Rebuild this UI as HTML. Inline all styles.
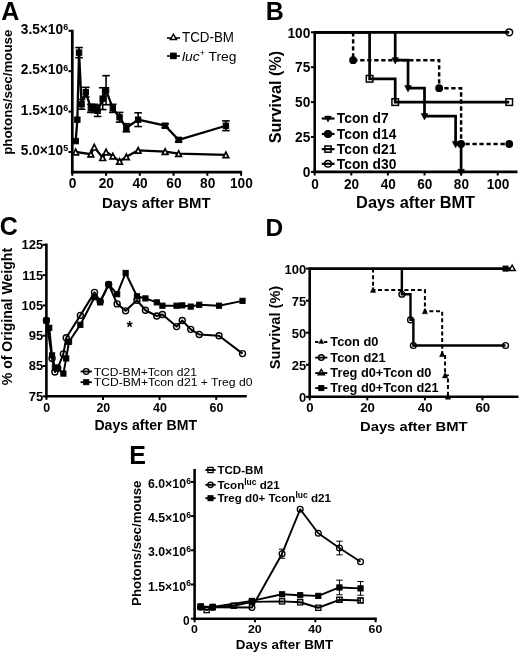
<!DOCTYPE html>
<html><head><meta charset="utf-8"><title>Figure</title>
<style>html,body{margin:0;padding:0;background:#fff}svg{display:block}text{font-family:"Liberation Sans", Arial, Helvetica, sans-serif;fill:#000}</style>
</head><body>
<svg width="520" height="654" viewBox="0 0 520 654" stroke="#000" fill="#000">
<defs><filter id="soft" x="0" y="0" width="520" height="654" filterUnits="userSpaceOnUse"><feGaussianBlur stdDeviation="0.4"/></filter></defs>
<rect x="0" y="0" width="520" height="654" fill="#fff" stroke="none"/>
<g filter="url(#soft)">
<g stroke="none">
<text transform="translate(1.2,19.8) scale(1,1)" font-size="25" font-weight="bold">A</text>
<text transform="translate(265.8,19.6) scale(1,1)" font-size="25" font-weight="bold">B</text>
<text transform="translate(-0.3,235.4) scale(1,1)" font-size="25" font-weight="bold">C</text>
<text transform="translate(265.6,235.9) scale(1,1)" font-size="24.5" font-weight="bold">D</text>
<text transform="translate(129.3,463.8) scale(1,1)" font-size="25" font-weight="bold">E</text>
</g>
<line x1="72.3" y1="29.8" x2="72.3" y2="173.55" stroke-width="2.7"/>
<line x1="70.95" y1="172.2" x2="242.1" y2="172.2" stroke-width="2.7"/>
<line x1="68.5" y1="152" x2="72.3" y2="152" stroke-width="2"/>
<line x1="68.5" y1="111.6" x2="72.3" y2="111.6" stroke-width="2"/>
<line x1="68.5" y1="71.2" x2="72.3" y2="71.2" stroke-width="2"/>
<line x1="68.5" y1="30.8" x2="72.3" y2="30.8" stroke-width="2"/>
<line x1="72.3" y1="172.2" x2="72.3" y2="175.8" stroke-width="2"/>
<line x1="106.06" y1="172.2" x2="106.06" y2="175.8" stroke-width="2"/>
<line x1="139.82" y1="172.2" x2="139.82" y2="175.8" stroke-width="2"/>
<line x1="173.58" y1="172.2" x2="173.58" y2="175.8" stroke-width="2"/>
<line x1="207.34" y1="172.2" x2="207.34" y2="175.8" stroke-width="2"/>
<line x1="241.1" y1="172.2" x2="241.1" y2="175.8" stroke-width="2"/>
<g stroke="none">
<text transform="translate(63.1,155.2) scale(1,1.1)" font-size="13" text-anchor="end" font-weight="bold" textLength="42.3" lengthAdjust="spacingAndGlyphs">5.0×10</text>
<text transform="translate(63.3,151.3) scale(1,1.1)" font-size="9" font-weight="bold">5</text>
<text transform="translate(63.1,114.8) scale(1,1.1)" font-size="13" text-anchor="end" font-weight="bold" textLength="42.3" lengthAdjust="spacingAndGlyphs">1.5×10</text>
<text transform="translate(63.3,110.9) scale(1,1.1)" font-size="9" font-weight="bold">6</text>
<text transform="translate(63.1,74.4) scale(1,1.1)" font-size="13" text-anchor="end" font-weight="bold" textLength="42.3" lengthAdjust="spacingAndGlyphs">2.5×10</text>
<text transform="translate(63.3,70.5) scale(1,1.1)" font-size="9" font-weight="bold">6</text>
<text transform="translate(63.1,34) scale(1,1.1)" font-size="13" text-anchor="end" font-weight="bold" textLength="42.3" lengthAdjust="spacingAndGlyphs">3.5×10</text>
<text transform="translate(63.3,30.1) scale(1,1.1)" font-size="9" font-weight="bold">6</text>
<text transform="translate(72.6,188.2) scale(1,1.06)" font-size="13.7" text-anchor="middle" font-weight="bold">0</text>
<text transform="translate(106.36,188.2) scale(1,1.06)" font-size="13.7" text-anchor="middle" font-weight="bold">20</text>
<text transform="translate(140.12,188.2) scale(1,1.06)" font-size="13.7" text-anchor="middle" font-weight="bold">40</text>
<text transform="translate(173.88,188.2) scale(1,1.06)" font-size="13.7" text-anchor="middle" font-weight="bold">60</text>
<text transform="translate(207.64,188.2) scale(1,1.06)" font-size="13.7" text-anchor="middle" font-weight="bold">80</text>
<text transform="translate(241.4,188.2) scale(1,1.06)" font-size="13.7" text-anchor="middle" font-weight="bold">100</text>
<text transform="translate(156.3,208.4) scale(1,1.03)" font-size="15" text-anchor="middle" font-weight="bold" textLength="108.5" lengthAdjust="spacingAndGlyphs">Days after BMT</text>
<text transform="translate(11.9,92.2) rotate(-90)" font-size="13" font-weight="bold" text-anchor="middle" textLength="125.3" lengthAdjust="spacingAndGlyphs">photons/sec/mouse</text>
</g>
<polyline points="75.68,141.09 77.36,119.68 79.05,52.62 81.58,104.33 85.8,92.21 90.87,108.37 94.24,108.37 97.62,110.79 102.68,98.67 106.06,90.19 112.81,108.37 119.56,117.26 126.32,127.76 138.13,119.68 165.14,125.74 178.64,139.88 225.91,125.74" fill="none" stroke-width="2.3" stroke-linejoin="round"/>
<line x1="79.05" y1="47.57" x2="79.05" y2="57.67" stroke-width="1.6"/>
<line x1="75.25" y1="47.57" x2="82.85" y2="47.57" stroke-width="1.6"/>
<line x1="75.25" y1="57.67" x2="82.85" y2="57.67" stroke-width="1.6"/>
<line x1="81.58" y1="99.48" x2="81.58" y2="109.18" stroke-width="1.6"/>
<line x1="77.78" y1="99.48" x2="85.38" y2="99.48" stroke-width="1.6"/>
<line x1="77.78" y1="109.18" x2="85.38" y2="109.18" stroke-width="1.6"/>
<line x1="85.8" y1="87.36" x2="85.8" y2="97.06" stroke-width="1.6"/>
<line x1="82" y1="87.36" x2="89.6" y2="87.36" stroke-width="1.6"/>
<line x1="82" y1="97.06" x2="89.6" y2="97.06" stroke-width="1.6"/>
<line x1="90.87" y1="104.33" x2="90.87" y2="112.41" stroke-width="1.6"/>
<line x1="87.07" y1="104.33" x2="94.67" y2="104.33" stroke-width="1.6"/>
<line x1="87.07" y1="112.41" x2="94.67" y2="112.41" stroke-width="1.6"/>
<line x1="94.24" y1="104.33" x2="94.24" y2="112.41" stroke-width="1.6"/>
<line x1="90.44" y1="104.33" x2="98.04" y2="104.33" stroke-width="1.6"/>
<line x1="90.44" y1="112.41" x2="98.04" y2="112.41" stroke-width="1.6"/>
<line x1="97.62" y1="105.14" x2="97.62" y2="116.45" stroke-width="1.6"/>
<line x1="93.82" y1="105.14" x2="101.42" y2="105.14" stroke-width="1.6"/>
<line x1="93.82" y1="116.45" x2="101.42" y2="116.45" stroke-width="1.6"/>
<line x1="102.68" y1="87.76" x2="102.68" y2="109.58" stroke-width="1.6"/>
<line x1="98.88" y1="87.76" x2="106.48" y2="87.76" stroke-width="1.6"/>
<line x1="98.88" y1="109.58" x2="106.48" y2="109.58" stroke-width="1.6"/>
<line x1="106.06" y1="75.64" x2="106.06" y2="104.73" stroke-width="1.6"/>
<line x1="102.26" y1="75.64" x2="109.86" y2="75.64" stroke-width="1.6"/>
<line x1="102.26" y1="104.73" x2="109.86" y2="104.73" stroke-width="1.6"/>
<line x1="112.81" y1="104.33" x2="112.81" y2="112.41" stroke-width="1.6"/>
<line x1="109.01" y1="104.33" x2="116.61" y2="104.33" stroke-width="1.6"/>
<line x1="109.01" y1="112.41" x2="116.61" y2="112.41" stroke-width="1.6"/>
<line x1="119.56" y1="112.41" x2="119.56" y2="122.1" stroke-width="1.6"/>
<line x1="115.76" y1="112.41" x2="123.36" y2="112.41" stroke-width="1.6"/>
<line x1="115.76" y1="122.1" x2="123.36" y2="122.1" stroke-width="1.6"/>
<line x1="126.32" y1="123.72" x2="126.32" y2="131.8" stroke-width="1.6"/>
<line x1="122.52" y1="123.72" x2="130.12" y2="123.72" stroke-width="1.6"/>
<line x1="122.52" y1="131.8" x2="130.12" y2="131.8" stroke-width="1.6"/>
<line x1="138.13" y1="112.81" x2="138.13" y2="126.55" stroke-width="1.6"/>
<line x1="134.33" y1="112.81" x2="141.93" y2="112.81" stroke-width="1.6"/>
<line x1="134.33" y1="126.55" x2="141.93" y2="126.55" stroke-width="1.6"/>
<line x1="165.14" y1="123.72" x2="165.14" y2="127.76" stroke-width="1.6"/>
<line x1="161.34" y1="123.72" x2="168.94" y2="123.72" stroke-width="1.6"/>
<line x1="161.34" y1="127.76" x2="168.94" y2="127.76" stroke-width="1.6"/>
<line x1="178.64" y1="137.86" x2="178.64" y2="141.9" stroke-width="1.6"/>
<line x1="174.84" y1="137.86" x2="182.44" y2="137.86" stroke-width="1.6"/>
<line x1="174.84" y1="141.9" x2="182.44" y2="141.9" stroke-width="1.6"/>
<line x1="225.91" y1="120.89" x2="225.91" y2="130.59" stroke-width="1.6"/>
<line x1="222.11" y1="120.89" x2="229.71" y2="120.89" stroke-width="1.6"/>
<line x1="222.11" y1="130.59" x2="229.71" y2="130.59" stroke-width="1.6"/>
<rect x="72.98" y="138.39" width="5.4" height="5.4" fill="#000" stroke-width="1"/>
<rect x="74.66" y="116.98" width="5.4" height="5.4" fill="#000" stroke-width="1"/>
<rect x="76.35" y="49.92" width="5.4" height="5.4" fill="#000" stroke-width="1"/>
<rect x="78.88" y="101.63" width="5.4" height="5.4" fill="#000" stroke-width="1"/>
<rect x="83.1" y="89.51" width="5.4" height="5.4" fill="#000" stroke-width="1"/>
<rect x="88.17" y="105.67" width="5.4" height="5.4" fill="#000" stroke-width="1"/>
<rect x="91.54" y="105.67" width="5.4" height="5.4" fill="#000" stroke-width="1"/>
<rect x="94.92" y="108.09" width="5.4" height="5.4" fill="#000" stroke-width="1"/>
<rect x="99.98" y="95.97" width="5.4" height="5.4" fill="#000" stroke-width="1"/>
<rect x="103.36" y="87.49" width="5.4" height="5.4" fill="#000" stroke-width="1"/>
<rect x="110.11" y="105.67" width="5.4" height="5.4" fill="#000" stroke-width="1"/>
<rect x="116.86" y="114.56" width="5.4" height="5.4" fill="#000" stroke-width="1"/>
<rect x="123.62" y="125.06" width="5.4" height="5.4" fill="#000" stroke-width="1"/>
<rect x="135.43" y="116.98" width="5.4" height="5.4" fill="#000" stroke-width="1"/>
<rect x="162.44" y="123.04" width="5.4" height="5.4" fill="#000" stroke-width="1"/>
<rect x="175.94" y="137.18" width="5.4" height="5.4" fill="#000" stroke-width="1"/>
<rect x="223.21" y="123.04" width="5.4" height="5.4" fill="#000" stroke-width="1"/>
<polyline points="75.68,152 90.87,154.02 94.24,147.15 102.68,157.66 106.06,152 112.81,156.04 119.56,161.29 126.32,156.85 138.13,150.38 165.14,151.6 178.64,153.62 225.91,154.83" fill="none" stroke-width="2.3" stroke-linejoin="round"/>
<polygon points="72.88,154.84 78.48,154.84 75.68,149.24" fill="#fff" stroke-width="1.7" stroke-linejoin="miter"/>
<polygon points="88.07,156.86 93.67,156.86 90.87,151.26" fill="#fff" stroke-width="1.7" stroke-linejoin="miter"/>
<polygon points="91.44,149.99 97.04,149.99 94.24,144.39" fill="#fff" stroke-width="1.7" stroke-linejoin="miter"/>
<polygon points="99.88,160.5 105.48,160.5 102.68,154.9" fill="#fff" stroke-width="1.7" stroke-linejoin="miter"/>
<polygon points="103.26,154.84 108.86,154.84 106.06,149.24" fill="#fff" stroke-width="1.7" stroke-linejoin="miter"/>
<polygon points="110.01,158.88 115.61,158.88 112.81,153.28" fill="#fff" stroke-width="1.7" stroke-linejoin="miter"/>
<polygon points="116.76,164.13 122.36,164.13 119.56,158.53" fill="#fff" stroke-width="1.7" stroke-linejoin="miter"/>
<polygon points="123.52,159.69 129.12,159.69 126.32,154.09" fill="#fff" stroke-width="1.7" stroke-linejoin="miter"/>
<polygon points="135.33,153.22 140.93,153.22 138.13,147.62" fill="#fff" stroke-width="1.7" stroke-linejoin="miter"/>
<polygon points="162.34,154.44 167.94,154.44 165.14,148.84" fill="#fff" stroke-width="1.7" stroke-linejoin="miter"/>
<polygon points="175.84,156.46 181.44,156.46 178.64,150.86" fill="#fff" stroke-width="1.7" stroke-linejoin="miter"/>
<polygon points="223.11,157.67 228.71,157.67 225.91,152.07" fill="#fff" stroke-width="1.7" stroke-linejoin="miter"/>
<line x1="167" y1="38" x2="180" y2="38" stroke-width="1.6"/>
<polygon points="170.4,39.5 176.4,39.5 173.4,34.25" fill="#fff" stroke-width="1.5" stroke-linejoin="miter"/>
<line x1="167" y1="56" x2="180" y2="56" stroke-width="1.6"/>
<rect x="170.6" y="53.1" width="5.6" height="5.6" fill="#000" stroke-width="1"/>
<g stroke="none">
<text transform="translate(182,42.2) scale(1,1.12)" font-size="13.5" textLength="52" lengthAdjust="spacingAndGlyphs">TCD-BM</text>
<text x="182" y="61.4" font-size="13.5" textLength="54.5" lengthAdjust="spacingAndGlyphs"><tspan font-style="italic">luc</tspan><tspan font-size="8.5" dy="-5">+</tspan><tspan dy="5"> Treg</tspan></text>
</g>
<line x1="314.7" y1="31.1" x2="314.7" y2="173.2" stroke-width="2.6"/>
<line x1="313.4" y1="171.9" x2="517.46" y2="171.9" stroke-width="2.6"/>
<line x1="310.9" y1="171.9" x2="314.7" y2="171.9" stroke-width="2"/>
<line x1="310.9" y1="137" x2="314.7" y2="137" stroke-width="2"/>
<line x1="310.9" y1="102.1" x2="314.7" y2="102.1" stroke-width="2"/>
<line x1="310.9" y1="67.2" x2="314.7" y2="67.2" stroke-width="2"/>
<line x1="310.9" y1="32.3" x2="314.7" y2="32.3" stroke-width="2"/>
<line x1="314.7" y1="171.9" x2="314.7" y2="175.5" stroke-width="2"/>
<line x1="351.3" y1="171.9" x2="351.3" y2="175.5" stroke-width="2"/>
<line x1="387.9" y1="171.9" x2="387.9" y2="175.5" stroke-width="2"/>
<line x1="424.5" y1="171.9" x2="424.5" y2="175.5" stroke-width="2"/>
<line x1="461.1" y1="171.9" x2="461.1" y2="175.5" stroke-width="2"/>
<line x1="497.7" y1="171.9" x2="497.7" y2="175.5" stroke-width="2"/>
<g stroke="none">
<text transform="translate(310.3,177.1) scale(1,1.1)" font-size="13.7" text-anchor="end" font-weight="bold">0</text>
<text transform="translate(310.3,142.2) scale(1,1.1)" font-size="13.7" text-anchor="end" font-weight="bold">25</text>
<text transform="translate(310.3,107.3) scale(1,1.1)" font-size="13.7" text-anchor="end" font-weight="bold">50</text>
<text transform="translate(310.3,72.4) scale(1,1.1)" font-size="13.7" text-anchor="end" font-weight="bold">75</text>
<text transform="translate(310.3,37.5) scale(1,1.1)" font-size="13.7" text-anchor="end" font-weight="bold">100</text>
<text transform="translate(315,188.8) scale(1,1.12)" font-size="13.6" text-anchor="middle" font-weight="bold">0</text>
<text transform="translate(351.6,188.8) scale(1,1.12)" font-size="13.6" text-anchor="middle" font-weight="bold">20</text>
<text transform="translate(388.2,188.8) scale(1,1.12)" font-size="13.6" text-anchor="middle" font-weight="bold">40</text>
<text transform="translate(424.8,188.8) scale(1,1.12)" font-size="13.6" text-anchor="middle" font-weight="bold">60</text>
<text transform="translate(461.4,188.8) scale(1,1.12)" font-size="13.6" text-anchor="middle" font-weight="bold">80</text>
<text transform="translate(498,188.8) scale(1,1.12)" font-size="13.6" text-anchor="middle" font-weight="bold">100</text>
<text transform="translate(415.6,207.7) scale(1,1)" font-size="16" text-anchor="middle" font-weight="bold" textLength="119" lengthAdjust="spacingAndGlyphs">Days after BMT</text>
<text transform="translate(280.7,97.1) rotate(-90)" font-size="16.2" font-weight="bold" text-anchor="middle" textLength="92.4" lengthAdjust="spacingAndGlyphs">Survival (%)</text>
</g>
<polyline points="314.7,32.3 509.23,32.3" fill="none" stroke-width="2.7" stroke-linejoin="miter"/>
<polyline points="314.7,32.3 369.6,32.3 369.6,78.79 395.22,78.79 395.22,102.1 509.23,102.1" fill="none" stroke-width="2.7" stroke-linejoin="miter"/>
<polyline points="353.13,32.3 353.13,60.22 439.14,60.22 439.14,88.14 461.1,88.14 461.1,143.98 509.23,143.98" fill="none" stroke-width="2.5" stroke-linejoin="miter" stroke-dasharray="4.3,2.7"/>
<polyline points="395.22,32.3 395.22,60.22 408.03,60.22 408.03,88.14 424.5,88.14 424.5,116.06 455.61,116.06 455.61,143.98 461.1,143.98 461.1,171.9" fill="none" stroke-width="2.7" stroke-linejoin="miter"/>
<rect x="366.3" y="75.49" width="6.6" height="6.6" fill="none" stroke-width="1.5"/>
<rect x="391.92" y="98.8" width="6.6" height="6.6" fill="none" stroke-width="1.5"/>
<rect x="505.93" y="98.8" width="6.6" height="6.6" fill="none" stroke-width="1.5"/>
<circle cx="509.23" cy="32.3" r="3.4" fill="none" stroke-width="1.5"/>
<circle cx="353.13" cy="60.22" r="3.3" fill="#000" stroke-width="1.2"/>
<circle cx="439.14" cy="88.14" r="3.3" fill="#000" stroke-width="1.2"/>
<circle cx="461.1" cy="143.98" r="3.3" fill="#000" stroke-width="1.2"/>
<circle cx="509.23" cy="143.98" r="3.3" fill="#000" stroke-width="1.2"/>
<polygon points="391.82,57.64 398.62,57.64 395.22,64.1" fill="#000" stroke-width="0.5" stroke-linejoin="miter"/>
<polygon points="404.63,85.56 411.43,85.56 408.03,92.02" fill="#000" stroke-width="0.5" stroke-linejoin="miter"/>
<polygon points="421.1,113.48 427.9,113.48 424.5,119.94" fill="#000" stroke-width="0.5" stroke-linejoin="miter"/>
<polygon points="452.21,141.4 459.01,141.4 455.61,147.86" fill="#000" stroke-width="0.5" stroke-linejoin="miter"/>
<polygon points="457.7,169.32 464.5,169.32 461.1,175.78" fill="#000" stroke-width="0.5" stroke-linejoin="miter"/>
<polygon points="324.6,116.12 331.4,116.12 328,122.07" fill="#000" stroke-width="0.5" stroke-linejoin="miter"/>
<circle cx="328" cy="134" r="3.5" fill="#000" stroke-width="1.2"/>
<rect x="324.9" y="146" width="6.2" height="6.2" fill="none" stroke-width="1.5"/>
<circle cx="328" cy="163.8" r="3.3" fill="none" stroke-width="1.5"/>
<line x1="321.8" y1="118.5" x2="334.5" y2="118.5" stroke-width="2.2"/>
<line x1="321.8" y1="134" x2="334.5" y2="134" stroke-width="2.2"/>
<line x1="321.8" y1="149.1" x2="334.5" y2="149.1" stroke-width="2.2"/>
<line x1="321.8" y1="163.8" x2="334.5" y2="163.8" stroke-width="2.2"/>
<g stroke="none">
<text transform="translate(336.8,123.4) scale(1,1.06)" font-size="13.8" font-weight="bold" textLength="51.9" lengthAdjust="spacingAndGlyphs">Tcon d7</text>
<text transform="translate(336.8,138.9) scale(1,1.06)" font-size="13.8" font-weight="bold" textLength="59.6" lengthAdjust="spacingAndGlyphs">Tcon d14</text>
<text transform="translate(336.8,154) scale(1,1.06)" font-size="13.8" font-weight="bold" textLength="59.6" lengthAdjust="spacingAndGlyphs">Tcon d21</text>
<text transform="translate(336.8,168.7) scale(1,1.06)" font-size="13.8" font-weight="bold" textLength="59.6" lengthAdjust="spacingAndGlyphs">Tcon d30</text>
</g>
<line x1="46.4" y1="243.6" x2="46.4" y2="397.6" stroke-width="2.6"/>
<line x1="45.1" y1="396.3" x2="246.76" y2="396.3" stroke-width="2.6"/>
<line x1="42.6" y1="396.3" x2="46.4" y2="396.3" stroke-width="2"/>
<line x1="42.6" y1="366" x2="46.4" y2="366" stroke-width="2"/>
<line x1="42.6" y1="335.7" x2="46.4" y2="335.7" stroke-width="2"/>
<line x1="42.6" y1="305.4" x2="46.4" y2="305.4" stroke-width="2"/>
<line x1="42.6" y1="275.1" x2="46.4" y2="275.1" stroke-width="2"/>
<line x1="42.6" y1="244.8" x2="46.4" y2="244.8" stroke-width="2"/>
<line x1="46.4" y1="396.3" x2="46.4" y2="399.9" stroke-width="2"/>
<line x1="103" y1="396.3" x2="103" y2="399.9" stroke-width="2"/>
<line x1="159.6" y1="396.3" x2="159.6" y2="399.9" stroke-width="2"/>
<line x1="216.2" y1="396.3" x2="216.2" y2="399.9" stroke-width="2"/>
<g stroke="none">
<text transform="translate(43.3,400.7) scale(1,1)" font-size="13" text-anchor="end" font-weight="bold">75</text>
<text transform="translate(43.3,370.4) scale(1,1)" font-size="13" text-anchor="end" font-weight="bold">85</text>
<text transform="translate(43.3,340.1) scale(1,1)" font-size="13" text-anchor="end" font-weight="bold">95</text>
<text transform="translate(43.3,309.8) scale(1,1)" font-size="13" text-anchor="end" font-weight="bold">105</text>
<text transform="translate(43.3,279.5) scale(1,1)" font-size="13" text-anchor="end" font-weight="bold">115</text>
<text transform="translate(43.3,249.2) scale(1,1)" font-size="13" text-anchor="end" font-weight="bold">125</text>
<text transform="translate(46.7,411.8) scale(1,1)" font-size="12.4" text-anchor="middle" font-weight="bold">0</text>
<text transform="translate(103.3,411.8) scale(1,1)" font-size="12.4" text-anchor="middle" font-weight="bold">20</text>
<text transform="translate(159.9,411.8) scale(1,1)" font-size="12.4" text-anchor="middle" font-weight="bold">40</text>
<text transform="translate(216.5,411.8) scale(1,1)" font-size="12.4" text-anchor="middle" font-weight="bold">60</text>
<text transform="translate(145.7,429.8) scale(1,1)" font-size="14" text-anchor="middle" font-weight="bold" textLength="102.6" lengthAdjust="spacingAndGlyphs">Days after BMT</text>
<text transform="translate(12.1,316.6) rotate(-90)" font-size="14.2" font-weight="bold" text-anchor="middle" textLength="137.4" lengthAdjust="spacingAndGlyphs">% of Original Weight</text>
</g>
<polyline points="46.4,320.55 49.23,327.82 52.06,355.4 54.89,367.51 57.72,368.42 63.38,373.57 66.21,358.43 69.04,341.76 80.36,324.79 94.51,297.22 100.17,302.37 108.66,284.49 117.15,294.19 125.64,272.98 136.96,296.31 145.45,298.43 156.77,302.37 162.43,305.7 176.58,305.7 182.24,305.4 190.73,306.61 199.22,304.79 219.03,305.7 242.52,300.86" fill="none" stroke-width="2" stroke-linejoin="round"/>
<rect x="43.8" y="317.95" width="5.2" height="5.2" fill="#000" stroke-width="1"/>
<rect x="46.63" y="325.22" width="5.2" height="5.2" fill="#000" stroke-width="1"/>
<rect x="49.46" y="352.8" width="5.2" height="5.2" fill="#000" stroke-width="1"/>
<rect x="52.29" y="364.91" width="5.2" height="5.2" fill="#000" stroke-width="1"/>
<rect x="55.12" y="365.82" width="5.2" height="5.2" fill="#000" stroke-width="1"/>
<rect x="60.78" y="370.97" width="5.2" height="5.2" fill="#000" stroke-width="1"/>
<rect x="63.61" y="355.82" width="5.2" height="5.2" fill="#000" stroke-width="1"/>
<rect x="66.44" y="339.16" width="5.2" height="5.2" fill="#000" stroke-width="1"/>
<rect x="77.76" y="322.19" width="5.2" height="5.2" fill="#000" stroke-width="1"/>
<rect x="91.91" y="294.62" width="5.2" height="5.2" fill="#000" stroke-width="1"/>
<rect x="97.57" y="299.77" width="5.2" height="5.2" fill="#000" stroke-width="1"/>
<rect x="106.06" y="281.89" width="5.2" height="5.2" fill="#000" stroke-width="1"/>
<rect x="114.55" y="291.59" width="5.2" height="5.2" fill="#000" stroke-width="1"/>
<rect x="123.04" y="270.38" width="5.2" height="5.2" fill="#000" stroke-width="1"/>
<rect x="134.36" y="293.71" width="5.2" height="5.2" fill="#000" stroke-width="1"/>
<rect x="142.85" y="295.83" width="5.2" height="5.2" fill="#000" stroke-width="1"/>
<rect x="154.17" y="299.77" width="5.2" height="5.2" fill="#000" stroke-width="1"/>
<rect x="159.83" y="303.1" width="5.2" height="5.2" fill="#000" stroke-width="1"/>
<rect x="173.98" y="303.1" width="5.2" height="5.2" fill="#000" stroke-width="1"/>
<rect x="179.64" y="302.8" width="5.2" height="5.2" fill="#000" stroke-width="1"/>
<rect x="188.13" y="304.01" width="5.2" height="5.2" fill="#000" stroke-width="1"/>
<rect x="196.62" y="302.19" width="5.2" height="5.2" fill="#000" stroke-width="1"/>
<rect x="216.43" y="303.1" width="5.2" height="5.2" fill="#000" stroke-width="1"/>
<rect x="239.92" y="298.25" width="5.2" height="5.2" fill="#000" stroke-width="1"/>
<polyline points="46.4,320.55 52.06,358.43 54.89,372.06 57.72,368.12 63.38,353.88 66.21,337.82 80.36,315.4 94.51,292.37 100.17,301.46 108.66,284.49 117.15,303.88 125.64,310.85 136.96,300.25 145.45,310.25 156.77,316 162.43,314.49 176.58,326.61 182.24,320.55 190.73,329.34 199.22,334.49 219.03,335.7 242.52,353.58" fill="none" stroke-width="2" stroke-linejoin="round"/>
<circle cx="46.4" cy="320.55" r="3" fill="none" stroke-width="1.4"/>
<circle cx="52.06" cy="358.43" r="3" fill="none" stroke-width="1.4"/>
<circle cx="54.89" cy="372.06" r="3" fill="none" stroke-width="1.4"/>
<circle cx="57.72" cy="368.12" r="3" fill="none" stroke-width="1.4"/>
<circle cx="63.38" cy="353.88" r="3" fill="none" stroke-width="1.4"/>
<circle cx="66.21" cy="337.82" r="3" fill="none" stroke-width="1.4"/>
<circle cx="80.36" cy="315.4" r="3" fill="none" stroke-width="1.4"/>
<circle cx="94.51" cy="292.37" r="3" fill="none" stroke-width="1.4"/>
<circle cx="100.17" cy="301.46" r="3" fill="none" stroke-width="1.4"/>
<circle cx="108.66" cy="284.49" r="3" fill="none" stroke-width="1.4"/>
<circle cx="117.15" cy="303.88" r="3" fill="none" stroke-width="1.4"/>
<circle cx="125.64" cy="310.85" r="3" fill="none" stroke-width="1.4"/>
<circle cx="136.96" cy="300.25" r="3" fill="none" stroke-width="1.4"/>
<circle cx="145.45" cy="310.25" r="3" fill="none" stroke-width="1.4"/>
<circle cx="156.77" cy="316" r="3" fill="none" stroke-width="1.4"/>
<circle cx="162.43" cy="314.49" r="3" fill="none" stroke-width="1.4"/>
<circle cx="176.58" cy="326.61" r="3" fill="none" stroke-width="1.4"/>
<circle cx="182.24" cy="320.55" r="3" fill="none" stroke-width="1.4"/>
<circle cx="190.73" cy="329.34" r="3" fill="none" stroke-width="1.4"/>
<circle cx="199.22" cy="334.49" r="3" fill="none" stroke-width="1.4"/>
<circle cx="219.03" cy="335.7" r="3" fill="none" stroke-width="1.4"/>
<circle cx="242.52" cy="353.58" r="3" fill="none" stroke-width="1.4"/>
<circle cx="86.2" cy="371.5" r="2.8" fill="none" stroke-width="1.3"/>
<line x1="80.6" y1="371.5" x2="91.8" y2="371.5" stroke-width="1.9"/>
<line x1="80.6" y1="382.2" x2="91.8" y2="382.2" stroke-width="1.9"/>
<rect x="83.7" y="379.7" width="5" height="5" fill="#000" stroke-width="1"/>
<g stroke="none">
<text transform="translate(93.7,375.5) scale(1,0.9)" font-size="12.1" textLength="103.2" lengthAdjust="spacingAndGlyphs">TCD-BM+Tcon d21</text>
<text transform="translate(93.7,386.3) scale(1,0.9)" font-size="12.1" textLength="158.8" lengthAdjust="spacingAndGlyphs">TCD-BM+Tcon d21 + Treg d0</text>
<text transform="translate(129.6,332.5) scale(1,1)" font-size="16" text-anchor="middle" font-weight="bold">*</text>
</g>
<line x1="309.7" y1="267.4" x2="309.7" y2="398.1" stroke-width="2.6"/>
<line x1="308.4" y1="396.8" x2="518.5" y2="396.8" stroke-width="2.6"/>
<line x1="305.9" y1="396.8" x2="309.7" y2="396.8" stroke-width="2"/>
<line x1="305.9" y1="364.75" x2="309.7" y2="364.75" stroke-width="2"/>
<line x1="305.9" y1="332.7" x2="309.7" y2="332.7" stroke-width="2"/>
<line x1="305.9" y1="300.65" x2="309.7" y2="300.65" stroke-width="2"/>
<line x1="305.9" y1="268.6" x2="309.7" y2="268.6" stroke-width="2"/>
<line x1="309.7" y1="396.8" x2="309.7" y2="400.4" stroke-width="2"/>
<line x1="367.3" y1="396.8" x2="367.3" y2="400.4" stroke-width="2"/>
<line x1="424.9" y1="396.8" x2="424.9" y2="400.4" stroke-width="2"/>
<line x1="482.5" y1="396.8" x2="482.5" y2="400.4" stroke-width="2"/>
<g stroke="none">
<text transform="translate(306.3,401.8) scale(1,1.02)" font-size="13" text-anchor="end" font-weight="bold">0</text>
<text transform="translate(306.3,369.75) scale(1,1.02)" font-size="13" text-anchor="end" font-weight="bold">25</text>
<text transform="translate(306.3,337.7) scale(1,1.02)" font-size="13" text-anchor="end" font-weight="bold">50</text>
<text transform="translate(306.3,305.65) scale(1,1.02)" font-size="13" text-anchor="end" font-weight="bold">75</text>
<text transform="translate(306.3,273.6) scale(1,1.02)" font-size="13" text-anchor="end" font-weight="bold">100</text>
<text transform="translate(310,412) scale(1,1.02)" font-size="13.2" text-anchor="middle" font-weight="bold">0</text>
<text transform="translate(367.6,412) scale(1,1.02)" font-size="13.2" text-anchor="middle" font-weight="bold">20</text>
<text transform="translate(425.2,412) scale(1,1.02)" font-size="13.2" text-anchor="middle" font-weight="bold">40</text>
<text transform="translate(482.8,412) scale(1,1.02)" font-size="13.2" text-anchor="middle" font-weight="bold">60</text>
<text transform="translate(413.8,431.2) scale(1,0.9)" font-size="14.8" text-anchor="middle" font-weight="bold" textLength="107.6" lengthAdjust="spacingAndGlyphs">Days after BMT</text>
<text transform="translate(279.7,327.5) rotate(-90)" font-size="15" font-weight="bold" text-anchor="middle" textLength="83.4" lengthAdjust="spacingAndGlyphs">Survival (%)</text>
</g>
<polyline points="309.7,268.6 511.3,268.6" fill="none" stroke-width="2.6" stroke-linejoin="miter"/>
<polyline points="401.86,268.6 401.86,294.24 410.5,294.24 410.5,319.88 413.38,319.88 413.38,345.52 505.54,345.52" fill="none" stroke-width="2.4" stroke-linejoin="miter"/>
<polyline points="373.06,268.6 373.06,290.01 424.9,290.01 424.9,311.29 442.18,311.29 442.18,354.11 445.06,354.11 445.06,375.39 447.94,375.39 447.94,396.8" fill="none" stroke-width="2" stroke-linejoin="miter" stroke-dasharray="4,2.6"/>
<circle cx="401.86" cy="294.24" r="2.9" fill="none" stroke-width="1.4"/>
<circle cx="410.5" cy="319.88" r="2.9" fill="none" stroke-width="1.4"/>
<circle cx="413.38" cy="345.52" r="2.9" fill="none" stroke-width="1.4"/>
<circle cx="505.54" cy="345.52" r="2.9" fill="none" stroke-width="1.4"/>
<polygon points="370.36,292.58 375.76,292.58 373.06,286.91" fill="#000" stroke-width="0.4" stroke-linejoin="miter"/>
<polygon points="422.2,313.86 427.6,313.86 424.9,308.19" fill="#000" stroke-width="0.4" stroke-linejoin="miter"/>
<polygon points="439.48,356.68 444.88,356.68 442.18,351.01" fill="#000" stroke-width="0.4" stroke-linejoin="miter"/>
<polygon points="442.36,377.96 447.76,377.96 445.06,372.29" fill="#000" stroke-width="0.4" stroke-linejoin="miter"/>
<polygon points="445.24,399.37 450.64,399.37 447.94,393.7" fill="#000" stroke-width="0.4" stroke-linejoin="miter"/>
<rect x="503.04" y="266.1" width="5" height="5" fill="#000" stroke-width="1"/>
<polygon points="509.06,270.57 515.26,270.57 512.16,265.15" fill="#fff" stroke-width="1.4" stroke-linejoin="miter"/>
<polygon points="318.6,343.39 324,343.39 321.3,338.67" fill="#000" stroke-width="0.4" stroke-linejoin="miter"/>
<circle cx="321.3" cy="357.6" r="2.8" fill="none" stroke-width="1.4"/>
<polygon points="318.2,374.77 324.4,374.77 321.3,369.35" fill="none" stroke-width="1.4" stroke-linejoin="miter"/>
<rect x="318.8" y="385.6" width="5" height="5" fill="#000" stroke-width="1"/>
<line x1="315.2" y1="342" x2="327.3" y2="342" stroke-width="1.9" stroke-dasharray="3.2,5.7"/>
<line x1="315.2" y1="357.6" x2="327.3" y2="357.6" stroke-width="1.9"/>
<line x1="315.2" y1="373.1" x2="327.3" y2="373.1" stroke-width="1.9"/>
<line x1="315.2" y1="388.1" x2="327.3" y2="388.1" stroke-width="1.9"/>
<g stroke="none">
<text transform="translate(330.3,346.3) scale(1,1)" font-size="12.8" font-weight="bold" textLength="48.12" lengthAdjust="spacingAndGlyphs">Tcon d0</text>
<text transform="translate(330.3,361.9) scale(1,1)" font-size="12.8" font-weight="bold" textLength="55.24" lengthAdjust="spacingAndGlyphs">Tcon d21</text>
<text transform="translate(330.3,377.4) scale(1,1)" font-size="12.8" font-weight="bold" textLength="101.12" lengthAdjust="spacingAndGlyphs">Treg d0+Tcon d0</text>
<text transform="translate(330.3,392.4) scale(1,1)" font-size="12.8" font-weight="bold" textLength="108.24" lengthAdjust="spacingAndGlyphs">Treg d0+Tcon d21</text>
</g>
<line x1="194.6" y1="469" x2="194.6" y2="620" stroke-width="2.6"/>
<line x1="193.3" y1="618.7" x2="376.82" y2="618.7" stroke-width="2.6"/>
<line x1="190.8" y1="618.7" x2="194.6" y2="618.7" stroke-width="2"/>
<line x1="190.8" y1="584.5" x2="194.6" y2="584.5" stroke-width="2"/>
<line x1="190.8" y1="550.3" x2="194.6" y2="550.3" stroke-width="2"/>
<line x1="190.8" y1="516.1" x2="194.6" y2="516.1" stroke-width="2"/>
<line x1="190.8" y1="481.9" x2="194.6" y2="481.9" stroke-width="2"/>
<line x1="194.6" y1="618.7" x2="194.6" y2="622.3" stroke-width="2"/>
<line x1="254.94" y1="618.7" x2="254.94" y2="622.3" stroke-width="2"/>
<line x1="315.28" y1="618.7" x2="315.28" y2="622.3" stroke-width="2"/>
<line x1="375.62" y1="618.7" x2="375.62" y2="622.3" stroke-width="2"/>
<g stroke="none">
<text transform="translate(186,590.6) scale(1,1.02)" font-size="12" text-anchor="end" font-weight="bold" textLength="38" lengthAdjust="spacingAndGlyphs">1.5×10</text>
<text transform="translate(186.2,586.4) scale(1,1.02)" font-size="8.6" font-weight="bold">6</text>
<text transform="translate(186,556.4) scale(1,1.02)" font-size="12" text-anchor="end" font-weight="bold" textLength="38" lengthAdjust="spacingAndGlyphs">3.0×10</text>
<text transform="translate(186.2,552.2) scale(1,1.02)" font-size="8.6" font-weight="bold">6</text>
<text transform="translate(186,522.2) scale(1,1.02)" font-size="12" text-anchor="end" font-weight="bold" textLength="38" lengthAdjust="spacingAndGlyphs">4.5×10</text>
<text transform="translate(186.2,518) scale(1,1.02)" font-size="8.6" font-weight="bold">6</text>
<text transform="translate(186,488) scale(1,1.02)" font-size="12" text-anchor="end" font-weight="bold" textLength="38" lengthAdjust="spacingAndGlyphs">6.0×10</text>
<text transform="translate(186.2,483.8) scale(1,1.02)" font-size="8.6" font-weight="bold">6</text>
<text transform="translate(189.8,625.3) scale(1,1.02)" font-size="12" text-anchor="end" font-weight="bold">0</text>
<text transform="translate(194.4,632.6) scale(1,0.93)" font-size="12.3" text-anchor="middle" font-weight="bold">0</text>
<text transform="translate(254.74,632.6) scale(1,0.93)" font-size="12.3" text-anchor="middle" font-weight="bold">20</text>
<text transform="translate(315.08,632.6) scale(1,0.93)" font-size="12.3" text-anchor="middle" font-weight="bold">40</text>
<text transform="translate(375.42,632.6) scale(1,0.93)" font-size="12.3" text-anchor="middle" font-weight="bold">60</text>
<text transform="translate(284.45,648.9) scale(1,0.92)" font-size="13.4" text-anchor="middle" font-weight="bold" textLength="97.5" lengthAdjust="spacingAndGlyphs">Days after BMT</text>
<text transform="translate(141.1,543.25) rotate(-90)" font-size="13.2" font-weight="bold" text-anchor="middle" textLength="125.3" lengthAdjust="spacingAndGlyphs">Photons/sec/mouse</text>
</g>
<line x1="339.42" y1="597.5" x2="339.42" y2="602.06" stroke-width="1"/>
<line x1="336.22" y1="597.5" x2="342.62" y2="597.5" stroke-width="1"/>
<line x1="336.22" y1="602.06" x2="342.62" y2="602.06" stroke-width="1"/>
<line x1="360.53" y1="598.18" x2="360.53" y2="602.74" stroke-width="1"/>
<line x1="357.33" y1="598.18" x2="363.73" y2="598.18" stroke-width="1"/>
<line x1="357.33" y1="602.74" x2="363.73" y2="602.74" stroke-width="1"/>
<line x1="282.09" y1="549.16" x2="282.09" y2="558.28" stroke-width="1"/>
<line x1="278.89" y1="549.16" x2="285.29" y2="549.16" stroke-width="1"/>
<line x1="278.89" y1="558.28" x2="285.29" y2="558.28" stroke-width="1"/>
<line x1="339.42" y1="541.18" x2="339.42" y2="554.86" stroke-width="1"/>
<line x1="336.22" y1="541.18" x2="342.62" y2="541.18" stroke-width="1"/>
<line x1="336.22" y1="554.86" x2="342.62" y2="554.86" stroke-width="1"/>
<line x1="339.42" y1="580.17" x2="339.42" y2="594.76" stroke-width="1"/>
<line x1="336.22" y1="580.17" x2="342.62" y2="580.17" stroke-width="1"/>
<line x1="336.22" y1="594.76" x2="342.62" y2="594.76" stroke-width="1"/>
<line x1="360.53" y1="581.54" x2="360.53" y2="595.22" stroke-width="1"/>
<line x1="357.33" y1="581.54" x2="363.73" y2="581.54" stroke-width="1"/>
<line x1="357.33" y1="595.22" x2="363.73" y2="595.22" stroke-width="1"/>
<polyline points="200.63,606.84 206.67,610.04 212.7,607.3 233.82,605.7 251.92,601.83 282.09,601.37 300.19,602.28 318.3,607.76 339.42,599.78 360.53,600.46" fill="none" stroke-width="1.9" stroke-linejoin="round"/>
<rect x="198.03" y="604.24" width="5.2" height="5.2" fill="none" stroke-width="1.3"/>
<rect x="204.07" y="607.44" width="5.2" height="5.2" fill="none" stroke-width="1.3"/>
<rect x="210.1" y="604.7" width="5.2" height="5.2" fill="none" stroke-width="1.3"/>
<rect x="231.22" y="603.1" width="5.2" height="5.2" fill="none" stroke-width="1.3"/>
<rect x="249.32" y="599.23" width="5.2" height="5.2" fill="none" stroke-width="1.3"/>
<rect x="279.49" y="598.77" width="5.2" height="5.2" fill="none" stroke-width="1.3"/>
<rect x="297.59" y="599.68" width="5.2" height="5.2" fill="none" stroke-width="1.3"/>
<rect x="315.7" y="605.16" width="5.2" height="5.2" fill="none" stroke-width="1.3"/>
<rect x="336.82" y="597.18" width="5.2" height="5.2" fill="none" stroke-width="1.3"/>
<rect x="357.93" y="597.86" width="5.2" height="5.2" fill="none" stroke-width="1.3"/>
<polyline points="200.63,607.3 212.7,607.3 251.92,607.53 282.09,553.72 300.19,509.26 318.3,533.2 339.42,548.02 360.53,561.7" fill="none" stroke-width="1.9" stroke-linejoin="round"/>
<circle cx="200.63" cy="607.3" r="2.9" fill="none" stroke-width="1.3"/>
<circle cx="212.7" cy="607.3" r="2.9" fill="none" stroke-width="1.3"/>
<circle cx="251.92" cy="607.53" r="2.9" fill="none" stroke-width="1.3"/>
<circle cx="282.09" cy="553.72" r="2.9" fill="none" stroke-width="1.3"/>
<circle cx="300.19" cy="509.26" r="2.9" fill="none" stroke-width="1.3"/>
<circle cx="318.3" cy="533.2" r="2.9" fill="none" stroke-width="1.3"/>
<circle cx="339.42" cy="548.02" r="2.9" fill="none" stroke-width="1.3"/>
<circle cx="360.53" cy="561.7" r="2.9" fill="none" stroke-width="1.3"/>
<polyline points="200.63,606.39 212.7,606.84 251.92,600.92 282.09,594.3 300.19,595.22 318.3,595.9 339.42,587.46 360.53,588.38" fill="none" stroke-width="1.9" stroke-linejoin="round"/>
<rect x="198.03" y="603.79" width="5.2" height="5.2" fill="#000" stroke-width="1"/>
<rect x="210.1" y="604.24" width="5.2" height="5.2" fill="#000" stroke-width="1"/>
<rect x="249.32" y="598.32" width="5.2" height="5.2" fill="#000" stroke-width="1"/>
<rect x="279.49" y="591.7" width="5.2" height="5.2" fill="#000" stroke-width="1"/>
<rect x="297.59" y="592.62" width="5.2" height="5.2" fill="#000" stroke-width="1"/>
<rect x="315.7" y="593.3" width="5.2" height="5.2" fill="#000" stroke-width="1"/>
<rect x="336.82" y="584.86" width="5.2" height="5.2" fill="#000" stroke-width="1"/>
<rect x="357.93" y="585.78" width="5.2" height="5.2" fill="#000" stroke-width="1"/>
<rect x="207.9" y="467.4" width="5.2" height="5.2" fill="none" stroke-width="1.3"/>
<circle cx="210.5" cy="484.8" r="2.7" fill="none" stroke-width="1.3"/>
<rect x="208" y="495.7" width="5" height="5" fill="#000" stroke-width="1"/>
<line x1="205.4" y1="470" x2="215.6" y2="470" stroke-width="1.9"/>
<line x1="205.4" y1="484.8" x2="215.6" y2="484.8" stroke-width="1.9"/>
<line x1="205.4" y1="498.2" x2="215.6" y2="498.2" stroke-width="1.9"/>
<g stroke="none">
<text transform="translate(217.4,474) scale(1,0.96)" font-size="11.6" font-weight="bold">TCD-BM</text>
<text transform="translate(217.4,488.8) scale(1,0.96)" font-size="11.6" font-weight="bold">Tcon<tspan font-size="8.5" dy="-4">luc</tspan><tspan dy="4"> d21</tspan></text>
<text transform="translate(217.4,502.2) scale(1,0.96)" font-size="11.6" font-weight="bold">Treg d0+ Tcon<tspan font-size="8.5" dy="-4">luc</tspan><tspan dy="4"> d21</tspan></text>
</g>
</g>
</svg>
</body></html>
